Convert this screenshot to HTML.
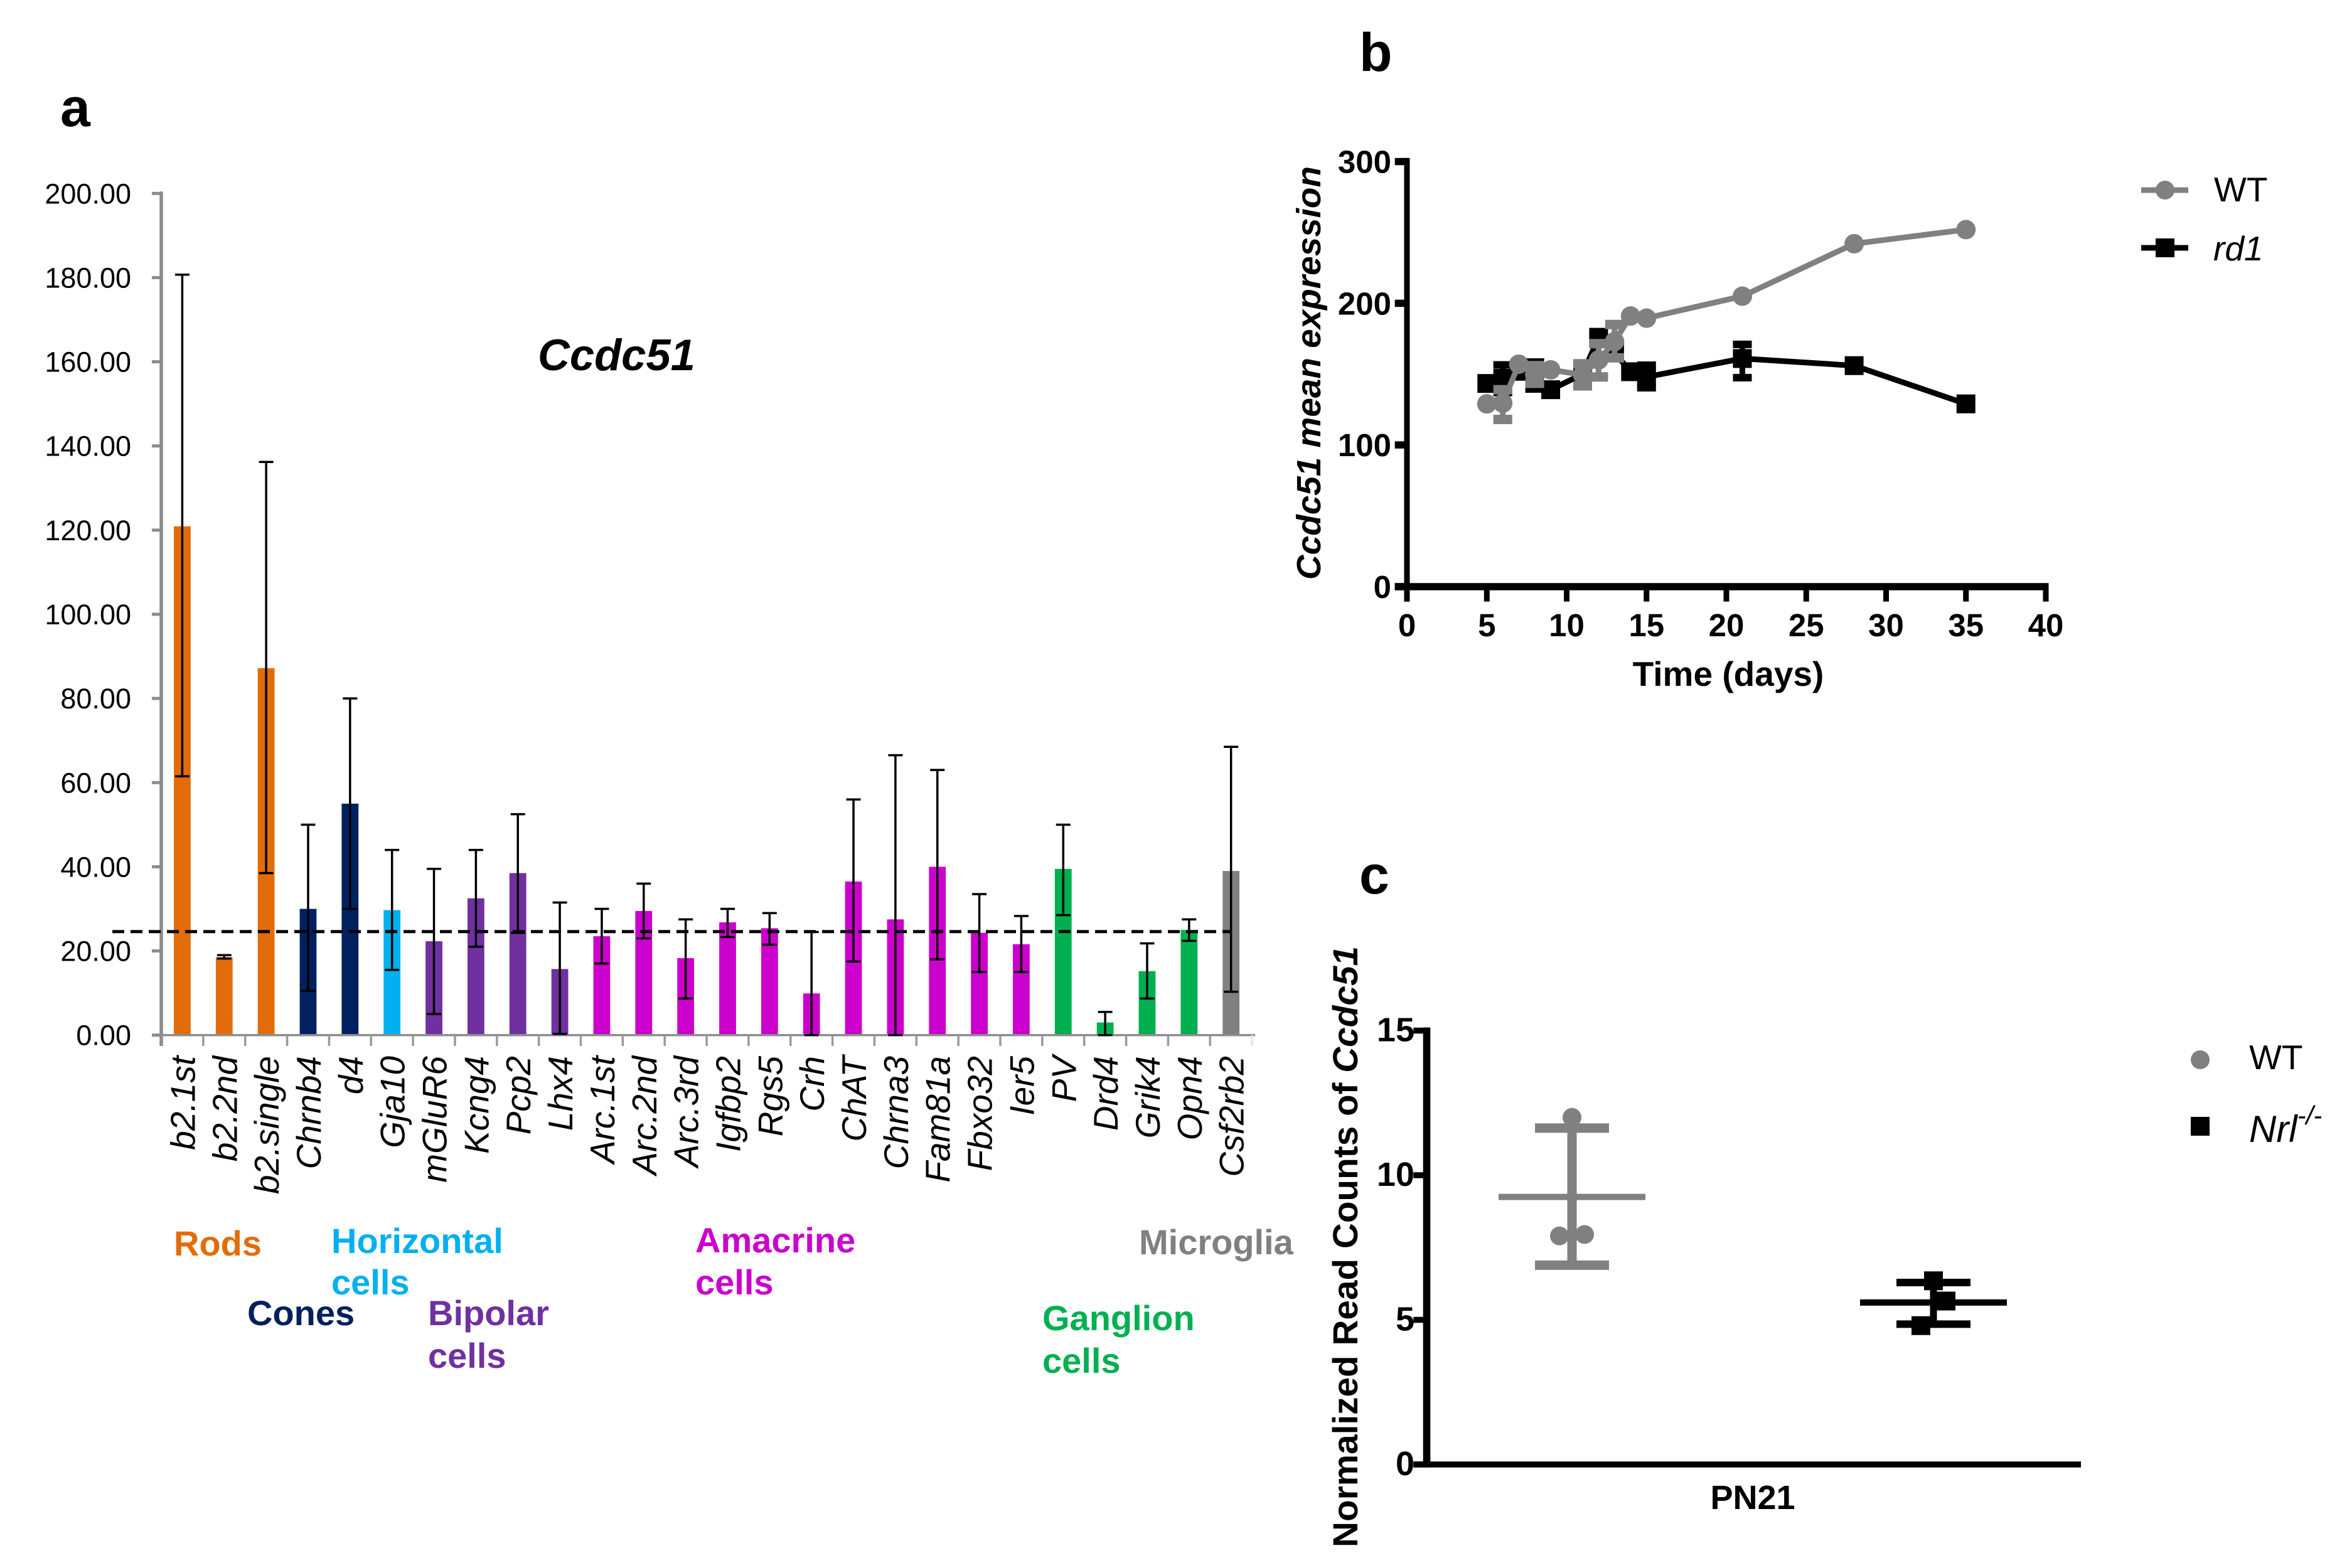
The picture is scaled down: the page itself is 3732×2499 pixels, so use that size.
<!DOCTYPE html>
<html lang="en">
<head>
<meta charset="utf-8">
<title>Ccdc51 expression figure</title>
<style>
html,body{margin:0;padding:0;background:#fff;}
svg{display:block;}
text{font-family:"Liberation Sans",sans-serif;}
.grp{font-weight:bold;font-size:56px;}
.panel{font-weight:bold;font-size:86px;fill:#000;}
</style>
</head>
<body>
<svg id="fig" xmlns="http://www.w3.org/2000/svg" width="3732" height="2499" viewBox="0 0 3732 2499">
  <rect x="0" y="0" width="3732" height="2499" fill="#fff"/>

  <text class="panel" x="96" y="201">a</text>
  <text class="panel" x="2166" y="113">b</text>
  <text class="panel" x="2166" y="1424">c</text>

  <g id="panelA"></g>
  <text x="857" y="590" font-size="70.5" font-weight="bold" font-style="italic" fill="#000">Ccdc51</text>

  <text class="grp" x="277" y="2001" fill="#E36C0A">Rods</text>
  <text class="grp" x="528" y="1997" fill="#00B0F0">Horizontal</text>
  <text class="grp" x="528" y="2063" fill="#00B0F0">cells</text>
  <text class="grp" x="394" y="2112" fill="#002060">Cones</text>
  <text class="grp" x="682" y="2112" fill="#7030A0">Bipolar</text>
  <text class="grp" x="682" y="2180" fill="#7030A0">cells</text>
  <text class="grp" x="1108" y="1996" fill="#CC00CC">Amacrine</text>
  <text class="grp" x="1108" y="2063" fill="#CC00CC">cells</text>
  <text class="grp" x="1815" y="1999" fill="#808080">Microglia</text>
  <text class="grp" x="1661" y="2120" fill="#00B050">Ganglion</text>
  <text class="grp" x="1661" y="2188" fill="#00B050">cells</text>

  <g id="panelB"></g>
  <text transform="translate(2104,924) rotate(-90)" font-size="54" font-weight="bold" font-style="italic" fill="#000" textLength="659" lengthAdjust="spacingAndGlyphs">Ccdc51 mean expression</text>
  <text x="2754" y="1093" text-anchor="middle" font-size="55" font-weight="bold" fill="#000">Time (days)</text>

  <g>
    <line x1="3412" y1="303" x2="3487" y2="303" stroke="#808080" stroke-width="9"/>
    <circle cx="3450" cy="303" r="15" fill="#808080"/>
    <text x="3528" y="321" font-size="55" fill="#000">WT</text>
    <line x1="3412" y1="395" x2="3487" y2="395" stroke="#000" stroke-width="9"/>
    <rect x="3435" y="380" width="30" height="30" fill="#000"/>
    <text x="3527" y="415" font-size="55" font-style="italic" fill="#000">rd1</text>
  </g>

  <g id="panelC"></g>
  <text transform="translate(2163,2466) rotate(-90)" font-size="56" font-weight="bold" fill="#000" textLength="958" lengthAdjust="spacingAndGlyphs">Normalized Read Counts of <tspan font-style="italic">Ccdc51</tspan></text>
  <text x="2793" y="2405" text-anchor="middle" font-size="54" font-weight="bold" fill="#000">PN21</text>

  <g>
    <circle cx="3506" cy="1689" r="15" fill="#808080"/>
    <text x="3584" y="1704" font-size="55" fill="#000">WT</text>
    <rect x="3491" y="1780" width="30" height="30" fill="#000"/>
    <text x="3584" y="1820" font-size="60" font-style="italic" fill="#000">Nrl<tspan dy="-28" font-size="42">-/-</tspan></text>
  </g>
</svg>

<script>
/* ---------- Panel a data ---------- */
const aCategories = ['b2.1st','b2.2nd','b2.single','Chrnb4','d4','Gja10','mGluR6','Kcng4','Pcp2','Lhx4','Arc.1st','Arc.2nd','Arc.3rd','Igfbp2','Rgs5','Crh','ChAT','Chrna3','Fam81a','Fbxo32','Ier5','PV','Drd4','Grik4','Opn4','Csf2rb2'];
const aGroups = ['rods','rods','rods','cones','cones','horizontal','bipolar','bipolar','bipolar','bipolar','amacrine','amacrine','amacrine','amacrine','amacrine','amacrine','amacrine','amacrine','amacrine','amacrine','amacrine','ganglion','ganglion','ganglion','ganglion','microglia'];
const aMeans = [120.9,18.5,87.2,30,55,29.7,22.3,32.5,38.5,15.7,23.5,29.5,18.3,26.8,25.4,9.9,36.5,27.5,40,24.3,21.6,39.5,3,15.2,25,39];
const aErrHigh = [180.7,19,136.2,50,80,44,39.5,44,52.5,31.5,30,36,27.5,30,29,24.5,56,66.5,63,33.5,28.3,50,5.5,21.8,27.5,68.5];
const aErrLow = [61.5,18.2,38.5,10.5,30,15.5,5,21,24.3,0.3,17,23,8.7,23.3,21.5,0,17.5,0,18,15,15,28.5,0,8.7,22.4,10.3];
const aTicks = [0,20,40,60,80,100,120,140,160,180,200];
const aThreshold = [24.6];

/* ---------- Panel b data ---------- */
const bDays = [5,6,7,8,9,11,12,13,14,15,21,28,35];
const bWtMean = [129,129.5,157,150,153,149.5,160,173,191,189.5,205,242,252];
const bWtHigh = [129,139,157,156,153,157.3,171.5,185,191,189.5,205,242,252];
const bWtLow = [129,118,157,143.5,153,141.7,148,161.5,191,189.5,205,242,252];
const bRd1Mean = [143.4,147,152,149,139,150,176,165,151.7,148,161,156,129];
const bRd1High = [143.4,156.5,152,158.5,139,150,176,165,151.7,156.3,171,156,129];
const bRd1Low = [143.4,137,152,139.5,139,150,176,165,151.7,140.4,147.5,156,129];
const bYTicks = [0,100,200,300];
const bXTicks = [0,5,10,15,20,25,30,35,40];

/* ---------- Panel c data ---------- */
const cWtValues = [12,7.9,7.95];
const cWtSlots = [0,-1,1];
const cWtStats = [9.25,11.63,6.89];
const cNrlValues = [6.35,5.65,4.8];
const cNrlSlots = [0,1,-1];
const cNrlStats = [5.6,6.29,4.85];
const cYTicks = [0,5,10,15];

/* ---------- Helpers ---------- */
const NS = 'http://www.w3.org/2000/svg';
function mk(parent, tag, attrs, txt) {
  const e = document.createElementNS(NS, tag);
  for (const k in attrs) e.setAttribute(k, attrs[k]);
  if (txt !== undefined) e.textContent = txt;
  parent.appendChild(e);
  return e;
}
const groupColors = {rods:'#E36C0A',cones:'#002060',horizontal:'#00B0F0',bipolar:'#7030A0',amacrine:'#CC00CC',ganglion:'#00B050',microglia:'#808080'};

/* ---------- Axis functions ---------- */
const aStep = 66.85;
const aY = v => 1649.7 - v * 6.707;
const aX = i => 257 + aStep * (i + 0.5);
const bY = v => 935 - v * 2.2583;
const bX = d => 2242 + d * 25.45;
const cY = v => 2334 - v * 46.1;
const cX = i => 2505 + 576 * i;

/* ---------- Panel a ---------- */
(function () {
  const g = document.getElementById('panelA');
  aCategories.forEach(function (name, i) {
    const bar = mk(g, 'rect', {x: aX(i) - 13.4, y: aY(aMeans[i]), width: 26.8, height: aY(0) - aY(aMeans[i]), fill: groupColors[aGroups[i]]});
    
    
  });
  const yAxis = mk(g, 'line', {x1: 257, y1: aY(200) - 3, x2: 257, y2: 1667, stroke: '#8c8c8c', 'stroke-width': 5.5});
  
  
  const xAxis = mk(g, 'line', {x1: 242, y1: aY(0), x2: 2000, y2: aY(0), stroke: '#8c8c8c', 'stroke-width': 3.5});
  
  
  aTicks.forEach(function (t) {
    const tick = mk(g, 'line', {x1: 242, y1: aY(t), x2: 257, y2: aY(t), stroke: '#8c8c8c', 'stroke-width': 5});
    
    
    const lab = mk(g, 'text', {x: 209, y: aY(t) + 16, 'text-anchor': 'end', 'font-size': 45, fill: '#000'}, t.toFixed(2));
    
    
  });
  for (let i = 1; i <= aCategories.length; i++) {
    const tick = mk(g, 'line', {x1: 257 + aStep * i, y1: aY(0), x2: 257 + aStep * i, y2: 1667, stroke: i === aCategories.length ? '#e4e4e4' : '#999', 'stroke-width': 3.5});
    
    
  }
  aCategories.forEach(function (name, i) {
    const x = aX(i);
    const stem = mk(g, 'line', {x1: x, y1: aY(aErrHigh[i]), x2: x, y2: aY(aErrLow[i]), stroke: '#000', 'stroke-width': 3.5});
    
    
    const capHigh = mk(g, 'line', {x1: x - 11.5, y1: aY(aErrHigh[i]), x2: x + 11.5, y2: aY(aErrHigh[i]), stroke: '#000', 'stroke-width': 3.5});
    
    
    const capLow = mk(g, 'line', {x1: x - 11.5, y1: aY(aErrLow[i]), x2: x + 11.5, y2: aY(aErrLow[i]), stroke: '#000', 'stroke-width': 3.5});
    
    
    const lab = mk(g, 'text', {transform: 'translate(' + (x + 20) + ',1683) rotate(-90)', 'text-anchor': 'end', 'font-size': 55, 'font-style': 'italic', fill: '#000'}, name);
    
    
  });
  const dash = mk(g, 'line', {x1: 179, y1: aY(aThreshold[0]), x2: 1961, y2: aY(aThreshold[0]), stroke: '#000', 'stroke-width': 5, 'stroke-dasharray': '19 10'});
  
  
})();

/* ---------- Panel b ---------- */
function drawSeriesB(g, means, highs, lows, color, isCircle, capHeight) {
  const pts = bDays.map(function (d, i) { return bX(d) + ',' + bY(means[i]); }).join(' ');
  const path = mk(g, 'polyline', {points: pts, fill: 'none', stroke: color, 'stroke-width': 9});
  
  
  bDays.forEach(function (d, i) {
    const x = bX(d);
    if (highs[i] - lows[i] > 4) {
      const stem = mk(g, 'line', {x1: x, y1: bY(highs[i]), x2: x, y2: bY(lows[i]), stroke: color, 'stroke-width': 9});
      
      
      const capHigh = mk(g, 'rect', {x: x - 15, y: bY(highs[i]) - capHeight / 2, width: 30, height: capHeight, fill: color});
      
      
      const capLow = mk(g, 'rect', {x: x - 15, y: bY(lows[i]) - capHeight / 2, width: 30, height: capHeight, fill: color});
      
      
    }
    if (isCircle) {
      const dot = mk(g, 'circle', {cx: x, cy: bY(means[i]), r: 15.5, fill: color});
      
      
    } else {
      const sq = mk(g, 'rect', {x: x - 15, y: bY(means[i]) - 15, width: 30, height: 30, fill: color});
      
      
    }
  });
}
(function () {
  const g = document.getElementById('panelB');
  drawSeriesB(g, bRd1Mean, bRd1High, bRd1Low, '#000', false, 12);
  drawSeriesB(g, bWtMean, bWtHigh, bWtLow, '#808080', true, 15);
  const yAxis = mk(g, 'line', {x1: 2242, y1: bY(300) - 5.8, x2: 2242, y2: 958.7, stroke: '#000', 'stroke-width': 9});
  
  
  const xAxis = mk(g, 'line', {x1: 2222.7, y1: bY(0), x2: bX(40) + 4.5, y2: bY(0), stroke: '#000', 'stroke-width': 11.5});
  
  
  bYTicks.forEach(function (t) {
    const tick = mk(g, 'line', {x1: 2222.7, y1: bY(t), x2: 2242, y2: bY(t), stroke: '#000', 'stroke-width': 11.5});
    
    
    const lab = mk(g, 'text', {x: 2217, y: bY(t) + 18, 'text-anchor': 'end', 'font-size': 51, 'font-weight': 'bold', fill: '#000'}, t);
    
    
  });
  bXTicks.forEach(function (t) {
    const tick = mk(g, 'line', {x1: bX(t), y1: bY(0), x2: bX(t), y2: 958.7, stroke: '#000', 'stroke-width': 9});
    
    
    const lab = mk(g, 'text', {x: bX(t), y: 1014, 'text-anchor': 'middle', 'font-size': 51, 'font-weight': 'bold', fill: '#000'}, t);
    
    
  });
})();

/* ---------- Panel c ---------- */
function drawGroupC(g, idx, values, slots, stats, color, isCircle, capThick) {
  const x = cX(idx);
  values.forEach(function (v, i) {
    const px = x + slots[i] * 20;
    if (isCircle) {
      const dot = mk(g, 'circle', {cx: px, cy: cY(v), r: 15, fill: color});
      
      
    } else {
      const sq = mk(g, 'rect', {x: px - 15, y: cY(v) - 15, width: 30, height: 30, fill: color});
      
      
    }
  });
  const stem = mk(g, 'line', {x1: x, y1: cY(stats[1]), x2: x, y2: cY(stats[2]), stroke: color, 'stroke-width': isCircle ? 15 : 11});
  
  
  const mean = mk(g, 'line', {x1: x - 117, y1: cY(stats[0]), x2: x + 117, y2: cY(stats[0]), stroke: color, 'stroke-width': 10});
  
  
  const capHigh = mk(g, 'line', {x1: x - 59, y1: cY(stats[1]), x2: x + 59, y2: cY(stats[1]), stroke: color, 'stroke-width': capThick});
  
  
  const capLow = mk(g, 'line', {x1: x - 59, y1: cY(stats[2]), x2: x + 59, y2: cY(stats[2]), stroke: color, 'stroke-width': capThick});
  
  
}
(function () {
  const g = document.getElementById('panelC');
  drawGroupC(g, 0, cWtValues, cWtSlots, cWtStats, '#808080', true, 15);
  drawGroupC(g, 1, cNrlValues, cNrlSlots, cNrlStats, '#000', false, 12);
  const yAxis = mk(g, 'line', {x1: 2273.5, y1: cY(15) - 5, x2: 2273.5, y2: cY(0) + 4.7, stroke: '#000', 'stroke-width': 11.6});
  
  
  const xAxis = mk(g, 'line', {x1: 2252.3, y1: cY(0), x2: 3316, y2: cY(0), stroke: '#000', 'stroke-width': 9.5});
  
  
  cYTicks.forEach(function (t) {
    const tick = mk(g, 'line', {x1: 2252.3, y1: cY(t), x2: 2273.5, y2: cY(t), stroke: '#000', 'stroke-width': 9.5});
    
    
    const lab = mk(g, 'text', {x: 2254, y: cY(t) + 17, 'text-anchor': 'end', 'font-size': 54, 'font-weight': 'bold', fill: '#000'}, t);
    
    
  });
})();
</script>
</body>
</html>
